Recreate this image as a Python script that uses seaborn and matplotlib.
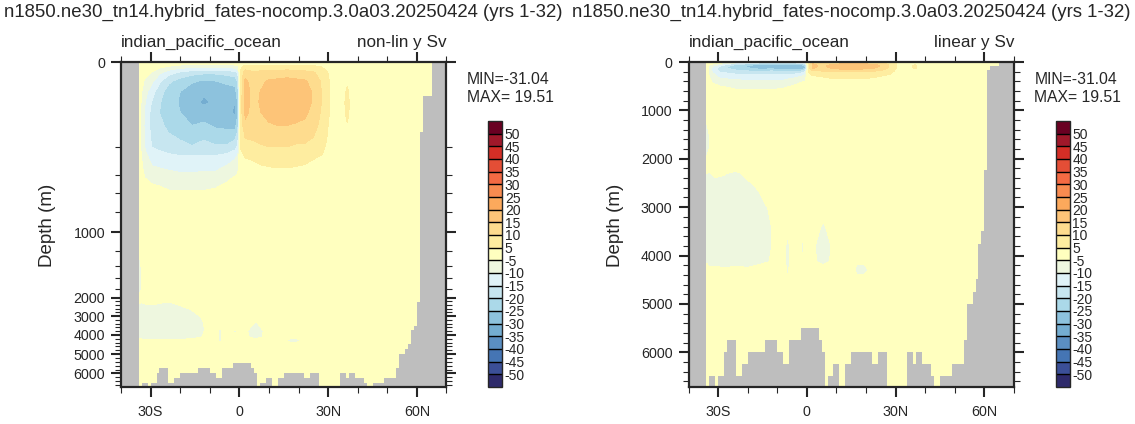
import numpy as np
import matplotlib
matplotlib.use("Agg")
import matplotlib.pyplot as plt
import matplotlib.colors as mcolors
from matplotlib.ticker import FixedLocator
import seaborn as sns

sns.set_style("ticks")
plt.rcParams['font.family'] = ['Liberation Sans', 'DejaVu Sans']
plt.rcParams['axes.unicode_minus'] = False

case_title = "n1850.ne30_tn14.hybrid_fates-nocomp.3.0a03.20250424 (yrs 1-32)"
basin_name = "indian_pacific_ocean"
panel_tags = ["non-lin y Sv", "linear y Sv"]
field_min = -31.04
field_max = 19.51
max_depth = 6710

# upper ocean overturning (Sv): one list per latitude, values at depth_upper
lat_upper = [-34, -32, -29.5, -27, -24, -20, -16, -12, -8, -4, -1.5, -0.5,
             0.5, 2, 4.5, 7, 10, 13, 16, 19, 22, 25, 28, 31, 34, 36.5, 39, 66]
depth_upper = [0, 10, 25, 45, 70, 95, 120, 150, 185, 230, 280, 350, 430, 520, 620, 760, 1000]
psi_upper = [
    [0, -0.5, -1, -1.5, -2, -2.2, -2.4, -2.5, -2.5, -2.4, -2.2, -2, -2, -2, -2, -2.2, -3],
    [0, -1, -3, -5.5, -8, -9.5, -10.5, -11, -10.5, -9.5, -8, -6.5, -5, -3.5, -2.5, -2, -1.5],
    [0, -2, -5.5, -9, -13, -15.5, -17, -17, -16, -14, -12, -9.5, -6.5, -4.5, -3, -2, -1],
    [0, -3.5, -9, -14, -18, -19.5, -20, -19, -17, -15, -12.5, -10, -7, -5, -3, -2, -1],
    [0, -5, -13, -19, -22, -23, -22.5, -21, -19, -16, -13.5, -10.5, -8, -5.8, -4, -2, -1],
    [0, -7, -16, -22, -25, -25.5, -25, -23, -20, -17, -14, -11, -8.5, -6, -4, -2, -1],
    [0, -8, -18, -24.5, -27, -28, -27, -25, -21, -17.5, -14, -11, -8.5, -6, -4, -2, -1],
    [0, -8, -19, -25.5, -29, -31, -28, -24, -20, -17, -14, -11, -8, -6, -4, -2, -1],
    [0, -8, -19, -25, -28, -29, -28.5, -26, -21, -17, -14, -11, -8, -5.5, -3.5, -2, -1],
    [0, -8, -18, -24, -27, -28.5, -28.5, -26.5, -21, -16.5, -12.5, -9, -6, -4, -3, -2, -1],
    [0, -7, -17, -23, -27, -30, -31, -27, -20, -14.5, -10.5, -7, -4.5, -3, -2, -1.5, -1],
    [0, -6, -14, -19, -22, -24, -25, -22, -16, -12, -9, -6, -4, -2.5, -2, -1.5, -1],
    [0, 4, 6, 7, 7.5, 8, 8, 7, 6, 4.5, 3.5, 2.5, 1.5, 1, 0.5, 0, 0],
    [0, 6, 13, 16, 16.5, 16.5, 16, 14, 9.5, 7, 5, 3.5, 2.5, 1.5, 1, 0.5, 0],
    [0, 5.5, 11, 13, 14, 14, 13.5, 12.5, 10, 7.5, 5.5, 3.5, 2.5, 1.5, 1, 0.5, 0],
    [0, 5.5, 11.5, 14, 15, 15.2, 14.8, 13.5, 10.5, 8, 6, 4.5, 3, 2, 1, 0.5, 0],
    [0, 6, 12, 15.5, 17, 17.5, 16.5, 14.5, 11, 8.5, 6.5, 4.8, 3.5, 2, 1.2, 0.5, 0],
    [0, 6, 12, 16, 18.5, 19, 17.5, 15, 11, 8.5, 6.5, 5, 3.5, 2, 1.2, 0.5, 0],
    [0, 6.5, 12.5, 16.5, 19, 19.5, 17.5, 15, 11, 8.5, 6.5, 5, 3.8, 2.2, 1.3, 0.5, 0],
    [0, 6.5, 12, 16, 18.5, 18.5, 17, 14.5, 10.5, 8, 6.2, 4.8, 3.5, 2, 1.2, 0.5, 0],
    [0, 6, 11.5, 15.5, 17, 17, 16, 14, 10.5, 8, 6, 4.5, 3, 2, 1, 0.5, 0],
    [0, 5.5, 10.5, 13.5, 14.5, 14.5, 13.5, 12, 9.5, 7, 5.2, 4, 2.5, 1.5, 1, 0.5, 0],
    [0, 4.5, 7.5, 9, 9.5, 9.5, 9, 8, 7, 5.5, 4.5, 3, 2, 1.2, 0.8, 0.3, 0],
    [0, 2.5, 3.5, 4, 4, 4, 4, 3.5, 3, 2.5, 2, 1.5, 1, 0.5, 0.3, 0, 0],
    [0, 1.5, 2, 2.5, 3, 3, 3, 2.5, 2, 1.5, 1, 0.5, 0.5, 0, 0, 0, 0],
    [0, 2, 3, 4.5, 5.5, 6, 5.8, 4.8, 3.5, 2.5, 1.5, 1, 0.5, 0, 0, 0, 0],
    [0, 1, 1.5, 2, 2, 2, 2, 1.5, 1, 1, 0.5, 0.5, 0, 0, 0, 0, 0],
    [0, 0, 0, 0, 0, 0, 0, 0, 0, 0, 0, 0, 0, 0, 0, 0, 0],
]

# deep ocean overturning (Sv): one list per latitude, values at depth_deep
lat_deep = [-34, -33, -31, -28, -24, -20, -16, -13, -11, -8, -6.5, -5, -2.5, -1.5,
            -0.5, 2, 3.5, 5.5, 7.5, 9.5, 15, 17, 19.5, 22, 24, 30, 66]
depth_deep = [1000, 1300, 1500, 1800, 2100, 2300, 2600, 3000, 3400, 3800, 4100, 4300, 4500, 5200, 6710]
psi_deep = [
    [-3, -5.3, -5.6, -5.6, -4.5, -5.0, -5.3, -5.4, -5.4, -5.4, -5.2, -4.5, -4, -3, -1],
    [-2.5, -4.5, -5.0, -5.0, -4.2, -5.1, -5.6, -5.8, -5.9, -5.8, -5.5, -4.7, -4, -3, -1],
    [-2, -2.5, -3, -3, -3.5, -4.8, -5.5, -5.8, -6, -5.9, -5.5, -4.7, -4, -2.5, -1],
    [-2, -2, -2.5, -2.8, -3.5, -4.9, -5.6, -6, -6.2, -6, -5.6, -4.8, -4, -2.5, -1],
    [-1.5, -2, -2.5, -2.8, -4, -5.3, -5.8, -6, -6.2, -6, -5.5, -4.7, -4, -2.5, -1],
    [-1.5, -2, -2.5, -2.8, -3.5, -4.6, -5.5, -5.9, -6, -5.9, -5.5, -4.8, -4, -2.5, -1],
    [-1, -1.5, -2, -2.5, -3, -4, -4.8, -5.6, -5.8, -5.7, -5.3, -4.6, -4, -2.5, -1],
    [-1, -1.5, -2, -2.5, -3, -3.5, -4.2, -4.9, -5.4, -5.4, -5.1, -4.5, -4, -2.5, -1],
    [-1, -1.5, -2, -2.3, -2.5, -3, -3.5, -4, -4.6, -4.7, -4.5, -4.2, -3.8, -2.5, -1],
    [-1, -1.5, -1.8, -2, -2.3, -2.7, -3, -3.5, -4, -4.3, -4.4, -4.3, -3.8, -2.5, -1],
    [-1, -1.5, -1.8, -2, -2.3, -2.7, -3, -3.6, -4.5, -5.5, -5.5, -5.3, -4.8, -2.5, -1],
    [-1, -1.5, -1.8, -2, -2.3, -2.7, -3, -3.5, -4, -4.3, -4.3, -4.2, -3.8, -2.5, -1],
    [-1, -1.5, -1.8, -2, -2.3, -2.7, -3, -3.5, -4, -4.6, -4.4, -4, -3.7, -2.5, -1],
    [-1, -1.5, -1.8, -2, -2.3, -2.7, -3, -3.5, -4, -5.4, -4.9, -4.1, -3.7, -2.5, -1],
    [-1, -1.5, -1.8, -2, -2.3, -2.7, -3, -3.5, -3.8, -4.5, -4.3, -4, -3.6, -2.5, -1],
    [-0.5, -1, -1.5, -2, -2.3, -2.7, -3, -3.5, -4, -4.6, -4.5, -4, -3.6, -2.5, -1],
    [-0.5, -1, -1.5, -2, -2.3, -2.7, -3, -3.7, -4.5, -5.3, -5.1, -4.3, -3.8, -2.5, -1],
    [-0.5, -1, -1.5, -2, -2.3, -2.7, -3.2, -4, -5.3, -5.8, -5.4, -4.5, -3.8, -2.5, -1],
    [-0.5, -1, -1.5, -2, -2.3, -2.7, -3, -3.7, -4.5, -5.3, -5.1, -4.4, -3.8, -2.5, -1],
    [-0.5, -1, -1.5, -1.8, -2, -2.5, -2.8, -3.2, -3.5, -4.2, -4.2, -4, -3.6, -2.5, -1],
    [0, -0.5, -1, -1.5, -1.8, -2.2, -2.5, -3, -3.3, -3.5, -4.2, -4.5, -4, -2.5, -1],
    [0, -0.5, -1, -1.5, -1.8, -2.2, -2.5, -3, -3.5, -4, -4.7, -5.4, -4.5, -2.5, -1],
    [0, -0.5, -1, -1.5, -1.8, -2.2, -2.5, -3, -3.5, -4, -4.7, -5.4, -4.5, -2.5, -1],
    [0, -0.5, -1, -1.5, -1.8, -2, -2.3, -2.8, -3.2, -3.5, -4, -4.5, -4, -2.5, -1],
    [0, -0.5, -1, -1.2, -1.5, -1.8, -2, -2.5, -2.8, -3, -3.2, -3.5, -3.2, -2, -1],
    [0, 0, -0.5, -1, -1, -1.2, -1.5, -1.8, -2, -2, -2, -2, -2, -1.5, -0.5],
    [0, 0, 0, 0, 0, 0, 0, 0, 0, 0, 0, 0, 0, 0, 0],
]

# ocean bottom (m) between latitude edges, 0 = land
bathy_edges = [-40, -34, -33, -31, -30, -28, -27, -24, -22, -20, -14, -10, -8, -6, -2,
               4, 5, 6, 7, 9, 11, 13, 15, 22, 24, 27, 34, 36, 37, 39, 42, 43, 45, 49,
               53, 54, 56, 57, 58, 59, 60, 61, 62, 65, 70]
bathy_depth = [0, 6710, 6497, 6710, 6497, 6000, 5744, 6497, 6241, 6000, 5744, 6000, 6241,
               5744, 5489, 5744, 6000, 6710, 6497, 6241, 6710, 6241, 6000, 6241, 6000,
               6710, 6000, 6241, 6000, 6241, 6497, 6710, 6497, 6241, 5744, 5000, 4743,
               4494, 3756, 3500, 2237, 166, 80, 0]

levels = [-50, -45, -40, -35, -30, -25, -20, -15, -10, -5, 5, 10, 15, 20, 25, 30, 35, 40, 45, 50]
band_colors = ["#2e2a6b", "#3b4f97", "#4575b4", "#5b8fc2", "#74add1", "#8dc2dd",
               "#abd9e9", "#c7e6f0", "#e0f3f8", "#eef7df", "#ffffbf", "#feeda0",
               "#fedc8e", "#fdc478", "#fca95c", "#f88b50", "#f46a43", "#e44e36",
               "#d42e26", "#a0182a", "#6a0022"]

pal = sns.color_palette(band_colors)
cmap = mcolors.ListedColormap(pal[1:-1])
cmap.set_under(pal[0])
cmap.set_over(pal[-1])
norm = mcolors.BoundaryNorm(levels, cmap.N)

# non-linear depth axis: depth -> pixel row of the reference layout
nl_depth = [-10000, 0, 200, 400, 600, 800, 1000, 1200, 1400, 1600, 1800, 2000,
            3000, 4000, 5000, 6000, 6710, 20000]
nl_pos = [62 - 4225, 62, 146.5, 175, 193.3, 212.3, 232, 251, 266, 278, 288.5, 297.7,
          316, 335, 354, 373.4, 386.7, 386.7 + 248]


def nl_fwd(d):
    return np.interp(np.asarray(d, float), nl_depth, nl_pos)


def nl_inv(p):
    return np.interp(np.asarray(p, float), nl_pos, nl_depth)


W, H = 1135, 424
fig = plt.figure(figsize=(W / 100, H / 100), dpi=100)

x_off = [0, 567.5]
for k in range(2):
    x0 = 121 + x_off[k]
    ax = fig.add_axes([x0 / W, 1 - 386.7 / H, 325.5 / W, (386.7 - 62) / H])
    if k == 0:
        ax.set_yscale('function', functions=(nl_fwd, nl_inv))

    lu, du = np.meshgrid(lat_upper, depth_upper)
    cs = ax.contourf(lu, du, np.array(psi_upper).T, levels=levels, cmap=cmap,
                     norm=norm, extend='both')
    ld, dd = np.meshgrid(lat_deep, depth_deep)
    ax.contourf(ld, dd, np.array(psi_deep).T, levels=levels, cmap=cmap,
                norm=norm, extend='both')
    ax.stairs(bathy_depth, bathy_edges, baseline=max_depth, fill=True,
              color="#bebebe", lw=0)

    ax.set_xlim(-40, 70)
    ax.set_ylim(max_depth, 0)
    ax.set_xticks([-30, 0, 30, 60], ['30S', '0', '30N', '60N'])
    ax.xaxis.set_minor_locator(FixedLocator([-40, -20, -10, 10, 20, 40, 50, 70]))
    ax.set_yticks([0, 1000, 2000, 3000, 4000, 5000, 6000])
    ax.set_yticklabels(['0', '1000', '2000', '3000', '4000', '5000', '6000'])
    minors = [d for d in range(200, max_depth, 200) if d % 1000 != 0]
    ax.yaxis.set_minor_locator(FixedLocator(minors))
    ax.tick_params(which='both', direction='out', top=True, right=True,
                   labelsize=10.3)
    ax.tick_params(axis='x', pad=6)
    ax.tick_params(axis='y', pad=4)
    ax.tick_params(which='major', length=7.5, width=1.5)
    ax.tick_params(which='minor', length=4, width=0.8)
    for sp in ax.spines.values():
        sp.set_linewidth(1.6)
    ax.set_xlabel('')
    ax.set_ylabel('')

    cx = (121 + 446.5) / 2 + x_off[k]
    fig.text(cx / W, 1 - 12 / H, case_title, ha='center', va='center', fontsize=13.4)
    fig.text(x0 / W, 1 - 42 / H, basin_name, ha='left', va='center', fontsize=12.3)
    fig.text((446.5 + x_off[k]) / W, 1 - 42 / H, panel_tags[k], ha='right',
             va='center', fontsize=12.3)
    fig.text((467 + x_off[k]) / W, 1 - 80 / H, "MIN=%.2f" % field_min, ha='left',
             va='center', fontsize=11.3)
    fig.text((467 + x_off[k]) / W, 1 - 97 / H, "MAX= %.2f" % field_max, ha='left',
             va='center', fontsize=11.3)
    fig.text((48 + x_off[k]) / W, 1 - 225 / H, "Depth (m)", rotation=90,
             ha='center', va='center', fontsize=13.5)

    cax = fig.add_axes([(488 + x_off[k]) / W, 1 - 387 / H, 14 / W, 266 / H])
    cb = fig.colorbar(cs, cax=cax, ticks=levels, drawedges=True,
                      extendrect=True, extendfrac='auto')
    cb.ax.tick_params(length=0, labelsize=10, pad=2)
    cb.outline.set_linewidth(1.0)
    cb.dividers.set_linewidth(1.0)
    cb.dividers.set_color('black')

fig.savefig("out.png", dpi=100)
